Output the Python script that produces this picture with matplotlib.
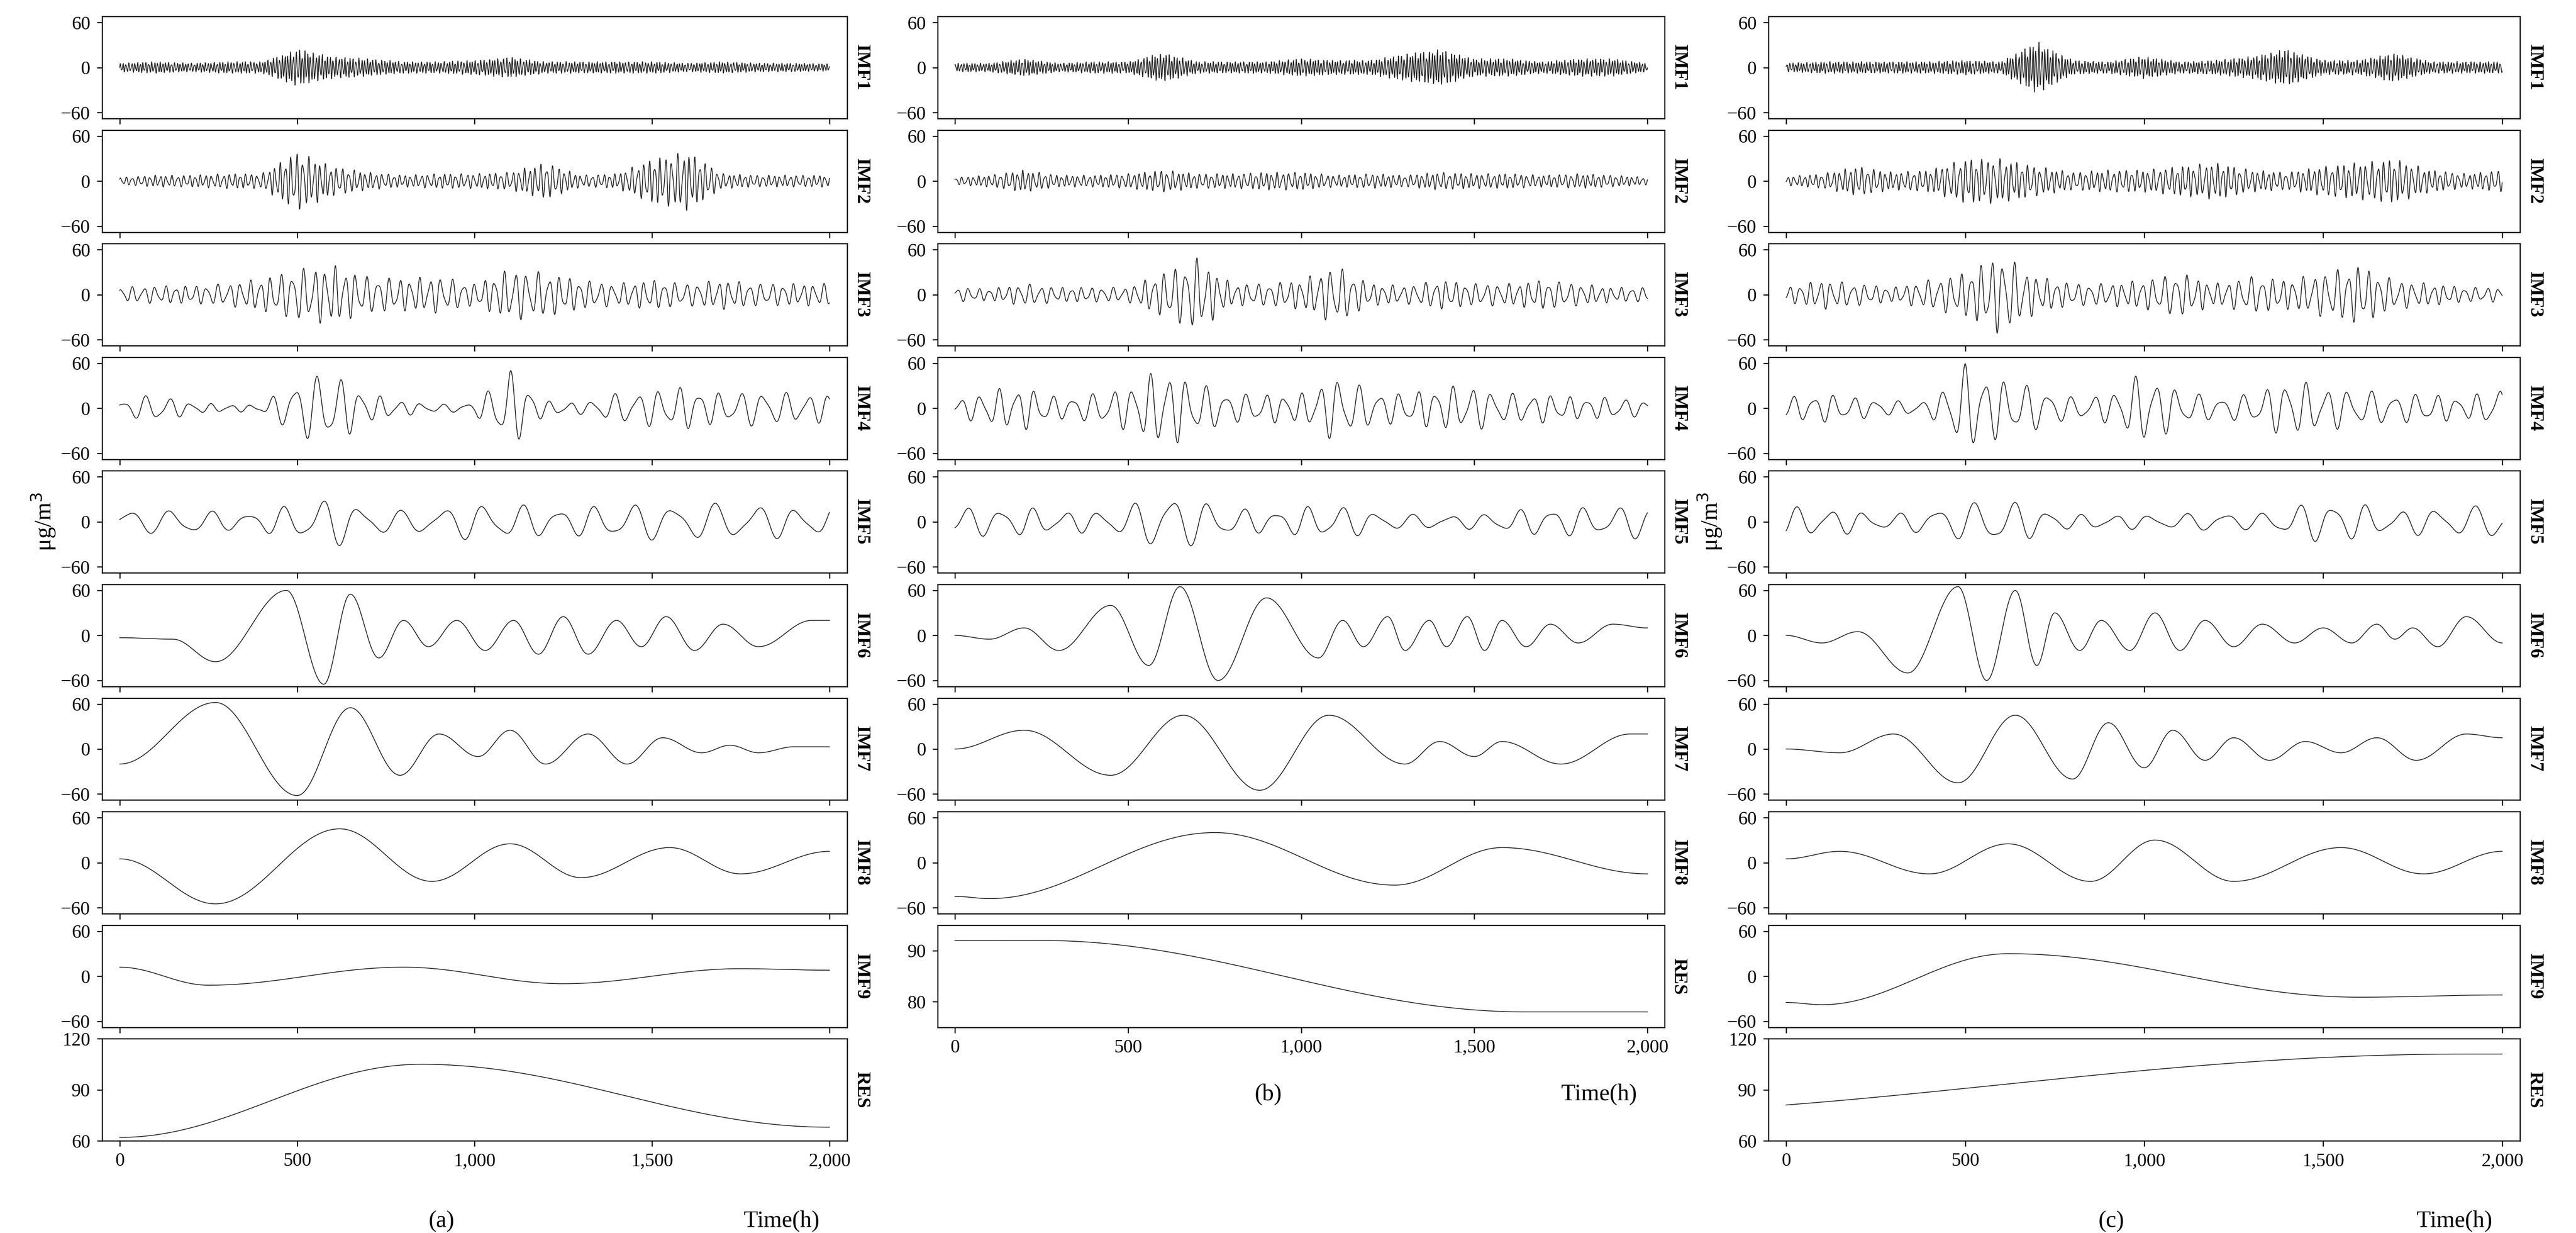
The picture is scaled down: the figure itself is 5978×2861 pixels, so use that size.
import numpy as np
import matplotlib
matplotlib.use("Agg")
import matplotlib.pyplot as plt
from matplotlib.ticker import FuncFormatter

plt.rcParams['font.family'] = ['Liberation Serif', 'DejaVu Serif']

t = np.arange(0, 2001)
env_x = np.arange(0, 2001, 100)

# oscillatory IMFs: envelope (every 100 h) and mean period (h)
osc = {
 'a': {
  'IMF1': (8, [6,8,6,8,8,25,15,12,8,8,10,14,8,8,8,8,6,8,6,6,5]),
  'IMF2': (16, [5,8,8,10,10,40,20,12,8,10,10,12,25,8,10,30,40,10,8,8,8]),
  'IMF3': (30, [10,12,12,15,22,35,40,25,22,25,15,35,30,20,15,20,15,20,15,15,15]),
  'IMF4': (60, [10,20,8,5,5,40,50,20,10,5,8,55,10,8,20,25,30,20,25,20,20]),
  'IMF5': (110, [20,15,20,12,15,25,35,20,15,20,25,25,20,20,25,25,25,25,25,20,20]),
 },
 'b': {
  'IMF1': (8, [6,6,12,6,8,8,20,8,8,8,12,10,10,18,25,12,12,8,12,12,6]),
  'IMF2': (16, [5,8,15,8,8,10,15,10,10,12,12,8,10,8,12,10,10,8,10,8,5]),
  'IMF3': (30, [10,8,15,10,10,10,30,50,15,15,20,40,15,12,20,15,15,20,15,10,10]),
  'IMF4': (55, [10,25,30,15,20,30,55,35,20,20,20,45,25,20,30,30,20,20,15,15,10]),
  'IMF5': (100, [20,20,20,15,15,20,45,30,20,15,20,25,15,10,10,10,15,20,20,20,25]),
 },
 'c': {
  'IMF1': (8, [6,8,8,8,8,10,8,35,10,8,15,8,10,15,25,10,10,20,8,8,8]),
  'IMF2': (16, [6,10,20,12,15,30,30,20,12,15,15,20,25,15,12,20,25,30,15,10,15]),
  'IMF3': (30, [10,20,15,10,20,30,55,25,15,15,20,30,15,25,20,30,40,20,15,10,10]),
  'IMF4': (60, [15,20,15,10,10,60,40,30,15,20,50,25,15,20,40,30,25,20,20,15,30]),
  'IMF5': (100, [20,20,15,10,20,25,35,20,10,10,10,10,15,10,20,30,25,15,20,20,25]),
 },
}

# smooth components: extrema (time, value)
smooth = {
 'a': {
  'IMF6': [(0,-3),(150,-5),(270,-35),(470,60),(575,-65),(650,55),(730,-30),(800,20),(870,-15),(950,20),(1030,-20),(1110,20),(1180,-25),(1250,25),(1320,-25),(1400,20),(1470,-15),(1540,25),(1620,-20),(1700,15),(1800,-15),(1950,20),(2000,20)],
  'IMF7': [(0,-20),(270,62),(500,-62),(650,55),(790,-35),(900,20),(1010,-10),(1100,25),(1200,-20),(1320,20),(1430,-20),(1530,15),(1640,-5),(1720,5),(1800,-5),(1900,3),(2000,3)],
  'IMF8': [(0,5),(270,-55),(620,45),(880,-25),(1100,25),(1300,-20),(1550,20),(1750,-15),(2000,15)],
  'IMF9': [(0,12),(250,-12),(800,12),(1250,-10),(1750,10),(2000,8)],
  'RES': [(0,62),(850,105),(2000,68)],
 },
 'b': {
  'IMF6': [(0,0),(100,-5),(200,10),(300,-20),(450,40),(560,-40),(650,65),(760,-60),(900,50),(1050,-30),(1120,20),(1180,-15),(1250,25),(1300,-20),(1370,20),(1420,-15),(1480,25),(1530,-20),(1580,20),(1650,-15),(1720,15),(1800,-10),(1900,15),(2000,10)],
  'IMF7': [(0,0),(200,25),(450,-35),(660,45),(880,-55),(1080,45),(1300,-20),(1400,10),(1500,-10),(1580,10),(1750,-20),(1950,20),(2000,20)],
  'IMF8': [(0,-45),(100,-48),(750,40),(1270,-30),(1580,20),(2000,-15)],
  'RES': [(0,92),(250,92),(1650,78),(2000,78)],
 },
 'c': {
  'IMF6': [(0,0),(100,-10),(200,5),(340,-50),(480,65),(560,-60),(640,60),(700,-40),(750,30),(820,-20),(880,20),(960,-20),(1030,30),(1100,-20),(1170,20),(1250,-15),(1330,15),(1420,-10),(1500,10),(1580,-10),(1650,15),(1700,-5),(1750,10),(1820,-15),(1900,25),(2000,-10)],
  'IMF7': [(0,0),(150,-5),(300,20),(480,-45),(640,45),(800,-40),(900,35),(1000,-25),(1080,25),(1170,-15),(1250,15),(1350,-15),(1450,10),(1550,-5),(1650,15),(1760,-15),(1900,20),(2000,15)],
  'IMF8': [(0,5),(150,15),(400,-15),(620,25),(850,-25),(1030,30),(1250,-25),(1550,20),(1780,-15),(2000,15)],
  'IMF9': [(0,-35),(100,-38),(620,30),(1600,-28),(2000,-25)],
  'RES': [(-700,75),(1900,111),(2000,111)],
 },
}

rows = {
 'a': ['IMF1','IMF2','IMF3','IMF4','IMF5','IMF6','IMF7','IMF8','IMF9','RES'],
 'b': ['IMF1','IMF2','IMF3','IMF4','IMF5','IMF6','IMF7','IMF8','RES'],
 'c': ['IMF1','IMF2','IMF3','IMF4','IMF5','IMF6','IMF7','IMF8','IMF9','RES'],
}

def osc_signal(period, env, seed_phase):
    e = np.interp(t, env_x, env)
    ph = 2*np.pi*t/period + 0.6*np.sin(2*np.pi*t/(period*7.3)+seed_phase)
    s = 0.75*np.sin(ph) + 0.25*np.sin(1.63*ph + seed_phase)
    return e*s

def smooth_signal(pts):
    xs = np.array([p[0] for p in pts], float)
    ys = np.array([p[1] for p in pts], float)
    out = np.empty_like(t, dtype=float)
    for i in range(len(xs)-1):
        m = (t >= xs[i]) & (t <= xs[i+1])
        u = (t[m]-xs[i])/(xs[i+1]-xs[i])
        w = (1-np.cos(np.pi*u))/2
        out[m] = ys[i]*(1-w) + ys[i+1]*w
    return out

fig = plt.figure(figsize=(5978/300, 2861/300), dpi=300)
W, H = 1566, 749
cols = {'a': (62, 515), 'b': (570, 1012), 'c': (1075, 1532)}
label_y = {'a': 742, 'b': 665, 'c': 742}
top0, pitch, hgt = 10, 69, 62
fmt = FuncFormatter(lambda v, p: f"{int(v):,}")

for ci, (key, (x0, x1)) in enumerate(cols.items()):
    names = rows[key]
    for ri, name in enumerate(names):
        top = top0 + ri*pitch
        ax = fig.add_axes([x0/W, 1-(top+hgt)/H, (x1-x0)/W, hgt/H])
        if name in osc[key]:
            per, env = osc[key][name]
            y = osc_signal(per, env, ci*1.3+ri*0.7)
        else:
            y = smooth_signal(smooth[key][name])
        ax.plot(t, y, color='#222222', lw=0.45)
        ax.set_xlim(-50, 2050)
        if name == 'RES':
            if key == 'b':
                ax.set_ylim(75, 95); ax.set_yticks([80, 90])
            else:
                ax.set_ylim(60, 120); ax.set_yticks([60, 90, 120])
        else:
            ax.set_ylim(-68, 68); ax.set_yticks([-60, 0, 60])
        ax.set_xticks([0, 500, 1000, 1500, 2000])
        ax.tick_params(labelsize=10.5, length=3, width=0.6, direction='out')
        if ri == len(names)-1:
            ax.xaxis.set_major_formatter(fmt)
        else:
            ax.set_xticklabels([])
        for s in ax.spines.values():
            s.set_linewidth(0.6)
        ax.text(1.008, 0.5, name, transform=ax.transAxes, rotation=-90,
                ha='left', va='center', fontsize=10.5, fontweight='bold')
        if name == 'IMF5' and key in ('a', 'c'):
            ax.set_ylabel('μg/m$^3$', fontsize=13, labelpad=2)
    yl = 1 - label_y[key]/H
    fig.text(((x0+x1)/2 - 20)/W, yl, f'({key})', ha='center', va='center', fontsize=13)
    fig.text((x1-40)/W, yl, 'Time(h)', ha='center', va='center', fontsize=13)

fig.savefig('out.png', dpi=300)
